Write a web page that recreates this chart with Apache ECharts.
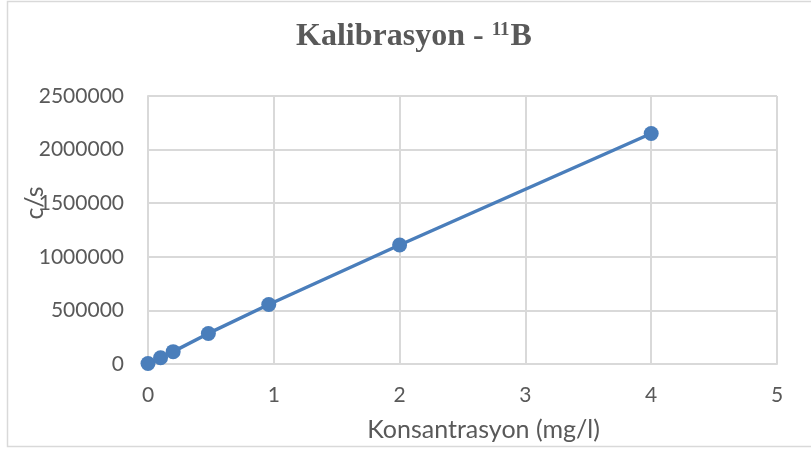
<!DOCTYPE html>
<html><head><meta charset="utf-8">
<script src="https://cdn.jsdelivr.net/npm/echarts@6/dist/echarts.min.js"></script>
<style>html,body{margin:0;padding:0;background:#fff}#c{width:811px;height:454px}</style>
</head><body><div id="c"></div>
<script>
const concentrations = [0, 0.1, 0.2, 0.48, 0.96, 2, 4];
const counts = [5000, 58000, 115000, 285000, 555000, 1110000, 2150000];
const xTicks = [0, 1, 2, 3, 4, 5];
const yTicks = [0, 500000, 1000000, 1500000, 2000000, 2500000];

const chart = echarts.init(document.getElementById('c'), null, {renderer: 'canvas'});
const data = concentrations.map((x, i) => [x, counts[i]]);
chart.setOption({
  animation: false,
  backgroundColor: '#fff',
  graphic: [{
    type: 'rect', shape: {x: 7.5, y: 1.5, width: 820, height: 445},
    style: {fill: 'none', stroke: '#d9d9d9', lineWidth: 1.5}, silent: true, z: -1
  }],
  title: {
    text: '{a|Kalibrasyon - }{s|11}{a|B}',
    left: 409, textAlign: 'center', top: 16,
    textStyle: {
      rich: {
        a: {fontFamily: 'Liberation Serif', fontWeight: 'bold', fontSize: 32, color: '#595959'},
        s: {fontFamily: 'Liberation Serif', fontWeight: 'bold', fontSize: 19, color: '#595959', verticalAlign: 'top', padding: [0, 1, 12, 0]}
      }
    }
  },
  grid: {left: 148, right: 34, top: 96, bottom: 90, containLabel: false, outerBoundsMode: 'none'},
  xAxis: {
    type: 'value', min: xTicks[0], max: xTicks[xTicks.length - 1], interval: 1,
    name: 'Konsantrasyon (mg/l)', nameLocation: 'middle', nameGap: 53, nameMoveOverlap: false,
    nameTextStyle: {fontFamily: 'Lato', fontSize: 25, color: '#595959', padding: [0, 0, 0, 42]},
    axisLine: {show: true, lineStyle: {color: '#d9d9d9', width: 2}},
    axisTick: {show: false},
    axisLabel: {fontFamily: 'Lato', fontSize: 21, color: '#595959', margin: 21},
    splitLine: {show: true, lineStyle: {color: '#d9d9d9', width: 2}}
  },
  yAxis: {
    type: 'value', min: yTicks[0], max: yTicks[yTicks.length - 1], interval: 500000,
    name: 'c/s', nameLocation: 'middle', nameGap: 101, nameRotate: 90, nameMoveOverlap: false,
    nameTextStyle: {fontFamily: 'Lato', fontSize: 25, color: '#595959', padding: [0, 0, 0, 54]},
    axisLine: {show: true, lineStyle: {color: '#d9d9d9', width: 2}},
    axisTick: {show: false},
    axisLabel: {fontFamily: 'Lato', fontSize: 21, color: '#595959', margin: 24, formatter: v => String(v)},
    splitLine: {show: true, lineStyle: {color: '#d9d9d9', width: 2}}
  },
  series: [{
    type: 'line', data: data, symbol: 'circle', symbolSize: 15,
    lineStyle: {color: '#4a7ebb', width: 3.5},
    itemStyle: {color: '#4a7ebb'}
  }]
});
</script></body></html>
